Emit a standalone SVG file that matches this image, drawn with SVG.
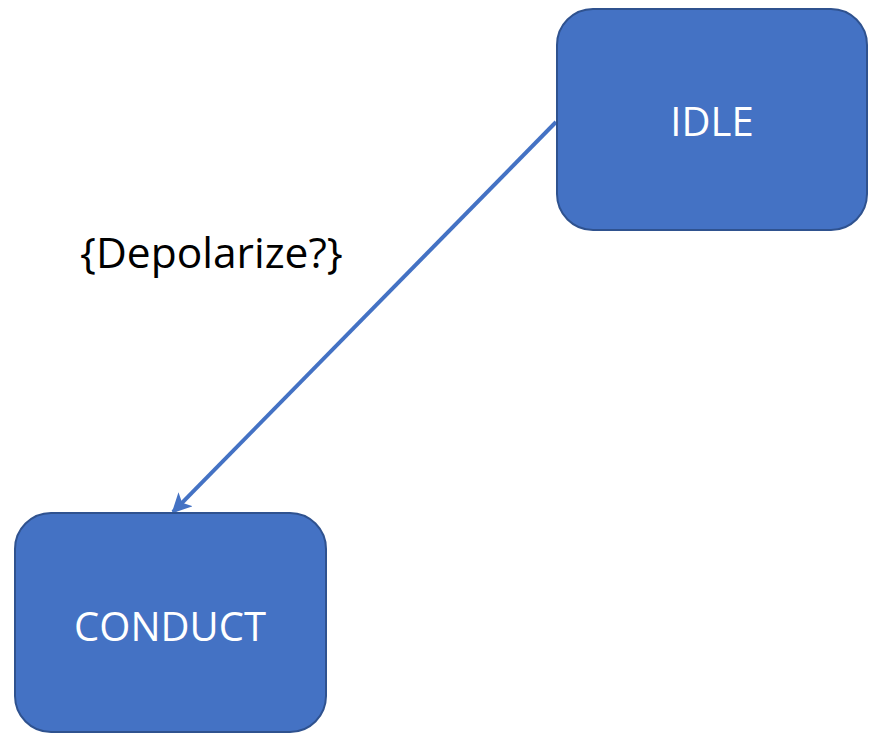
<svg xmlns="http://www.w3.org/2000/svg" width="869" height="734" viewBox="0 0 869 734">
  <style>
    .state rect { fill: #4472C4; stroke: #2F528F; stroke-width: 2; }
    .state text { fill: #FFFFFF; font-family: "Open Sans", "Liberation Sans", sans-serif; font-size: 40px; text-anchor: middle; }
    .edge { stroke: #4472C4; stroke-width: 4; fill: none; }
    .label { fill: #000000; font-family: "Open Sans", "Liberation Sans", sans-serif; font-size: 42.5px; }
  </style>
  <defs>
    <marker id="arrow" viewBox="0 0 10 10" refX="9" refY="5" markerWidth="5" markerHeight="5" orient="auto" markerUnits="strokeWidth">
      <path d="M0,0 L10,5 L0,10 L2.5,5 Z" fill="#4472C4"/>
    </marker>
  </defs>
  <rect width="869" height="734" fill="#FFFFFF"/>

  <g id="connectors">
    <line class="edge" x1="556" y1="122" x2="173" y2="512" marker-end="url(#arrow)"/>
    <text class="label" x="80" y="268">{Depolarize?}</text>
  </g>

  <g id="idle" class="state">
    <rect x="557" y="9" width="310" height="221" rx="36" ry="36"/>
    <text x="712" y="136">IDLE</text>
  </g>

  <g id="conduct" class="state">
    <rect x="15" y="513" width="311" height="219" rx="36" ry="36"/>
    <text x="170" y="641">CONDUCT</text>
  </g>
</svg>
